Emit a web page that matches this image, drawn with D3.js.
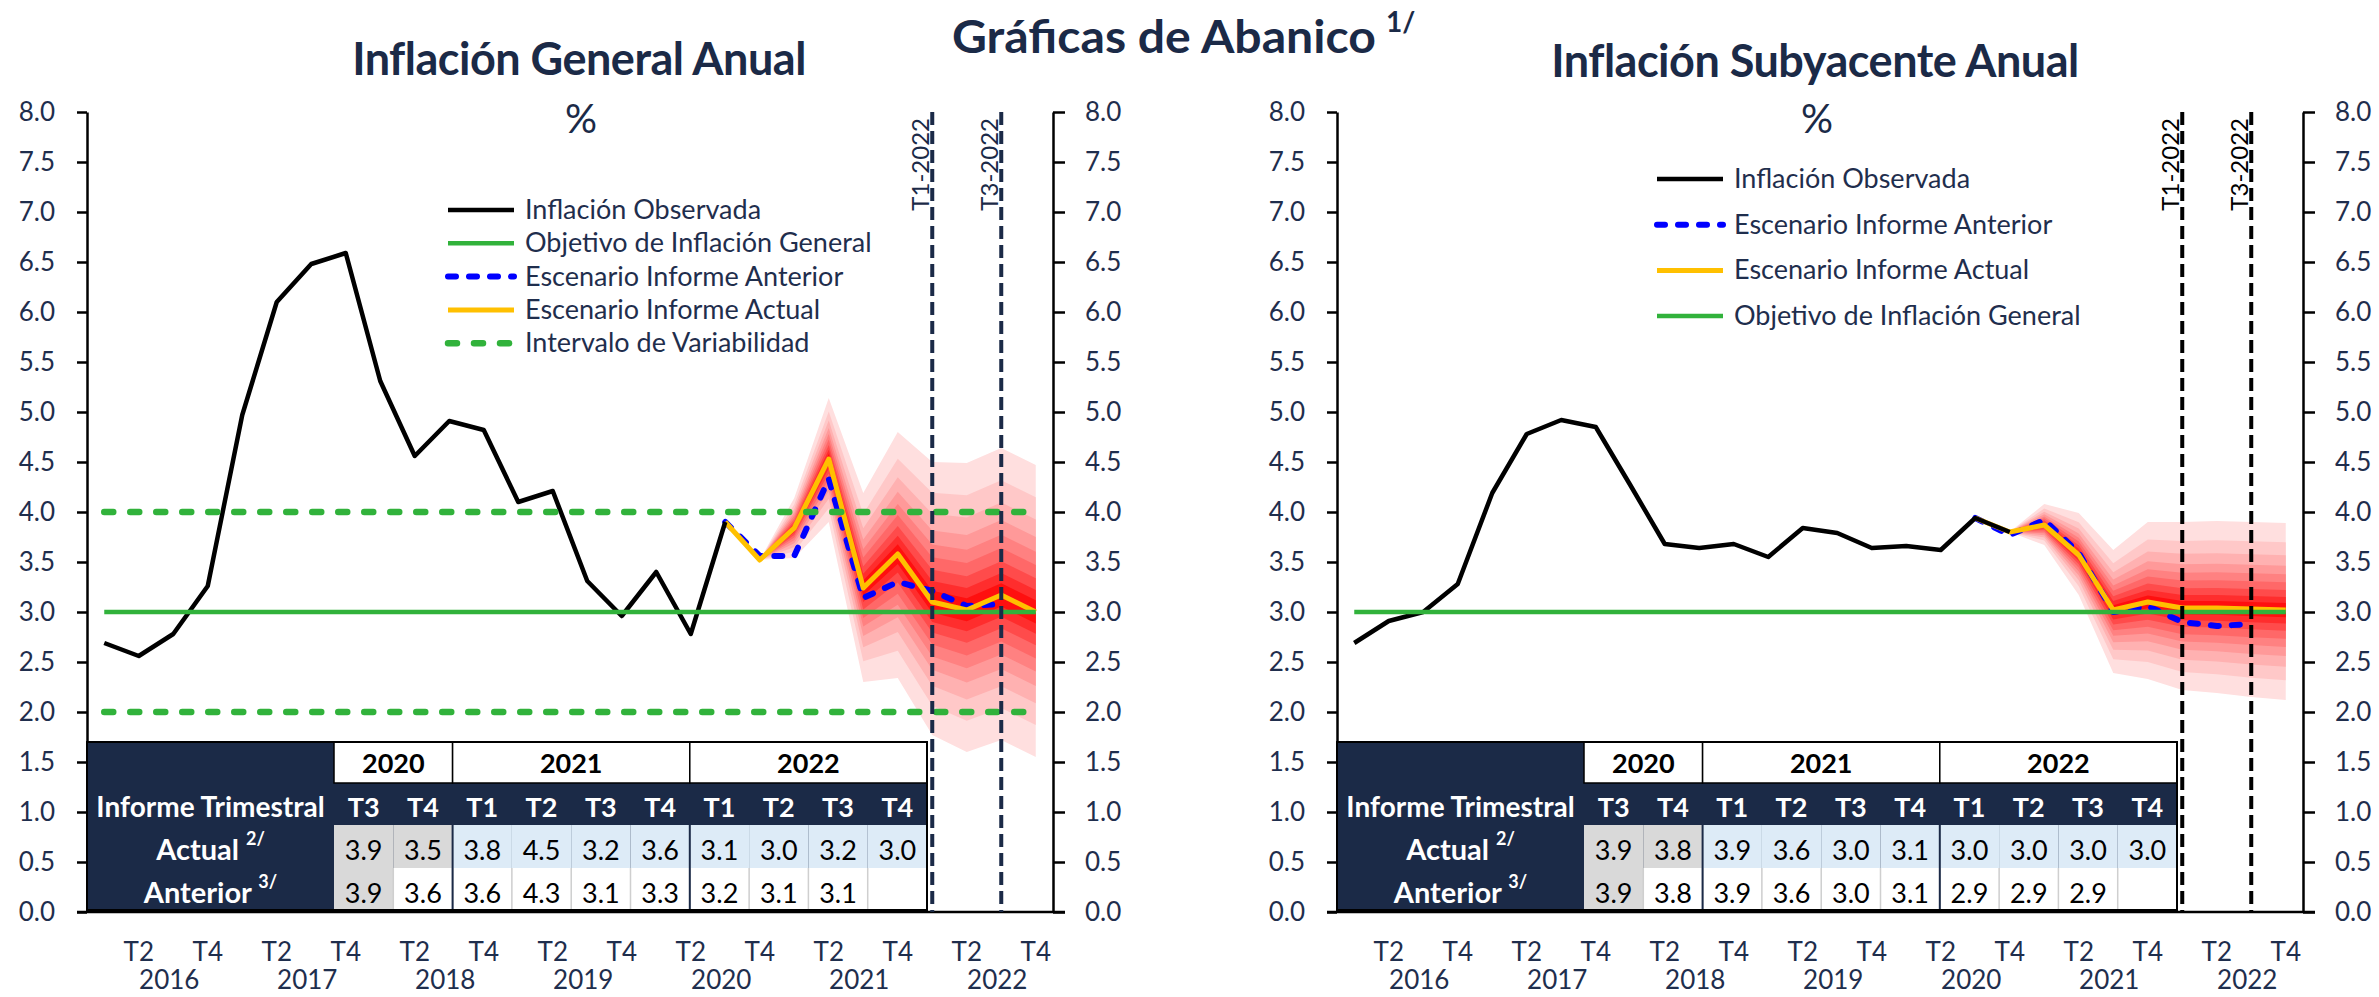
<!DOCTYPE html>
<html>
<head>
<meta charset="utf-8">
<script src="https://cdn.jsdelivr.net/npm/d3@7"></script>
<style>
  html, body { margin: 0; padding: 0; background: #ffffff; }
  svg { display: block; font-family: Lato, "Open Sans", sans-serif; }
</style>
</head>
<body>
<svg id="chart" width="2379" height="997"></svg>
<script>
// ---- Data ---------------------------------------------------------------
const years = [2016, 2017, 2018, 2019, 2020, 2021, 2022];
const quarterNames = ["T1", "T2", "T3", "T4"];
const yTicks = [0, 0.5, 1, 1.5, 2, 2.5, 3, 3.5, 4, 4.5, 5, 5.5, 6, 6.5, 7, 7.5, 8];
const axisQuarterLabels = ["T2", "T4"];

// Inflación general anual (promedio trimestral, %), T1 2016 – T3 2020
const generalObserved = [2.69, 2.56, 2.78, 3.26, 4.97, 6.10, 6.48, 6.59, 5.31, 4.56,
                         4.91, 4.82, 4.10, 4.21, 3.31, 2.96, 3.40, 2.78, 3.90];
// Escenario Informe Actual, T3 2020 – T4 2022
const generalCurrent = [3.90, 3.52, 3.84, 4.53, 3.24, 3.58, 3.10, 3.02, 3.17, 3.00];
// Escenario Informe Anterior, T3 2020 – T3 2022
const generalPrevious = [3.90, 3.56, 3.56, 4.33, 3.14, 3.30, 3.21, 3.06, 3.08];
// Abanico: límites exteriores, T4 2020 – T4 2022
const generalFanUpper = [3.52, 4.14, 5.14, 4.19, 4.80, 4.50, 4.49, 4.64, 4.47];
const generalFanLower = [3.52, 3.54, 3.90, 2.30, 2.34, 1.77, 1.60, 1.72, 1.55];

// Inflación subyacente anual, T1 2016 – T4 2020
const coreObserved = [2.69, 2.91, 3.00, 3.28, 4.19, 4.78, 4.92, 4.85, 4.27, 3.68,
                      3.64, 3.68, 3.55, 3.84, 3.79, 3.64, 3.66, 3.62, 3.94, 3.80];
const coreCurrent = [3.94, 3.80, 3.87, 3.57, 3.02, 3.10, 3.04, 3.04, 3.03, 3.02];
const corePrevious = [3.94, 3.77, 3.92, 3.59, 3.00, 3.06, 2.90, 2.86, 2.88];
const coreFanUpper = [3.80, 4.08, 3.99, 3.62, 3.90, 3.90, 3.91, 3.90, 3.89];
const coreFanLower = [3.80, 3.67, 3.17, 2.39, 2.33, 2.22, 2.19, 2.15, 2.12];

// Position of each fan band edge between the central path and the outer limit
const fanBandShares = [1, 0.78, 0.63, 0.51, 0.41, 0.32, 0.23, 0.15, 0.08];
const fanColors = ["#ffdfdf", "#ffc8c8", "#ffb1b1", "#ff9999", "#ff8181",
                   "#ff6868", "#ff4b4b", "#ff2d2d", "#ff0f0f"];

const inflationTarget = 3;
const variabilityBounds = [2, 4];
const scenarioStart = "T3 2020";
const fanStart = "T4 2020";
const reportMarkers = ["T1 2022", "T3 2022"];
const reportMarkerLabels = ["T1-2022", "T3-2022"];

const legendGeneral = [
  ["Inflación Observada", "observed"],
  ["Objetivo de Inflación General", "target"],
  ["Escenario Informe Anterior", "previous"],
  ["Escenario Informe Actual", "current"],
  ["Intervalo de Variabilidad", "band"]
];
const legendCore = [
  ["Inflación Observada", "observed"],
  ["Escenario Informe Anterior", "previous"],
  ["Escenario Informe Actual", "current"],
  ["Objetivo de Inflación General", "target"]
];

// ---- Layout & styles ----------------------------------------------------
const NAVY = "#1b2a47";
const TEXT = "#1f2e4d";
const lineStyles = {
  observed: { stroke: "#000000", width: 4.5, dash: null, cap: "butt" },
  target:   { stroke: "#31b23b", width: 4.5, dash: null, cap: "butt" },
  previous: { stroke: "#0000ff", width: 6,   dash: "8,13", cap: "round" },
  current:  { stroke: "#ffc000", width: 5,   dash: null, cap: "butt" },
  band:     { stroke: "#31b23b", width: 6.5, dash: "9,17", cap: "round" }
};

const svg = d3.select("#chart");
const categories = years.flatMap(yr => quarterNames.map(q => `${q} ${yr}`));
const y = d3.scaleLinear().domain([0, 8]).range([912, 112]);

// Main title
svg.append("text")
  .attr("x", 952).attr("y", 53)
  .attr("fill", NAVY).attr("font-weight", 700).attr("font-size", 46)
  .attr("textLength", 424).attr("lengthAdjust", "spacingAndGlyphs")
  .text("Gráficas de Abanico");
svg.append("text")
  .attr("x", 1386).attr("y", 32)
  .attr("fill", NAVY).attr("font-weight", 700).attr("font-size", 28)
  .text("1/");

const panels = [
  {
    left: 87, right: 1053, title: "Inflación General Anual", titleX: 579, titleY: 75,
    observed: generalObserved, current: generalCurrent, previous: generalPrevious,
    fanUpper: generalFanUpper, fanLower: generalFanLower,
    legend: legendGeneral, legendX: 446, legendY: 210, legendStep: 33.3,
    showBand: true, markerColor: NAVY
  },
  {
    left: 1337, right: 2303, title: "Inflación Subyacente Anual", titleX: 1815, titleY: 77,
    observed: coreObserved, current: coreCurrent, previous: corePrevious,
    fanUpper: coreFanUpper, fanLower: coreFanLower,
    legend: legendCore, legendX: 1655, legendY: 179, legendStep: 45.7,
    showBand: false, markerColor: "#000000"
  }
];

function styleLine(sel, kind) {
  const s = lineStyles[kind];
  sel.attr("fill", "none").attr("stroke", s.stroke).attr("stroke-width", s.width)
     .attr("stroke-linecap", s.cap).attr("stroke-linejoin", "round");
  if (s.dash) sel.attr("stroke-dasharray", s.dash);
  return sel;
}

panels.forEach(p => {
  const g = svg.append("g");
  const x = d3.scaleBand().domain(categories).range([p.left, p.right]);
  const cx = c => x(c) + x.bandwidth() / 2;
  const idx = c => categories.indexOf(c);
  const fromStart = (start, vals) => vals.map((v, i) => ({ c: categories[idx(start) + i], v }));

  const observedPts = fromStart(categories[0], p.observed);
  const currentPts = fromStart(scenarioStart, p.current);
  const previousPts = fromStart(scenarioStart, p.previous);
  const currentByCat = new Map(currentPts.map(d => [d.c, d.v]));
  const fanPts = p.fanUpper.map((u, i) => {
    const c = categories[idx(fanStart) + i];
    return { c, m: currentByCat.get(c), u, l: p.fanLower[i] };
  });

  // Titles
  g.append("text").attr("x", p.titleX).attr("y", p.titleY).attr("text-anchor", "middle")
    .attr("fill", NAVY).attr("font-weight", 700).attr("font-size", 45)
    .attr("letter-spacing", -0.5).text(p.title);
  g.append("text").attr("x", p.titleX + 2).attr("y", 133).attr("text-anchor", "middle")
    .attr("fill", NAVY).attr("font-size", 40).text("%");

  // Fan bands, outermost first
  fanBandShares.forEach((s, k) => {
    const area = d3.area()
      .x(d => cx(d.c))
      .y0(d => y(d.m - s * (d.m - d.l)))
      .y1(d => y(d.m + s * (d.u - d.m)));
    g.append("path").attr("d", area(fanPts)).attr("fill", fanColors[k]);
  });

  const line = d3.line().x(d => cx(d.c)).y(d => y(d.v));
  styleLine(g.append("path").attr("d", line(previousPts)), "previous");
  styleLine(g.append("path").attr("d", line(currentPts)), "current");
  styleLine(g.append("path").attr("d", line(observedPts)), "observed");

  const first = cx(categories[0]), last = cx(categories[categories.length - 1]);
  if (p.showBand) {
    variabilityBounds.forEach(b => {
      styleLine(g.append("line").attr("x1", first).attr("x2", last)
        .attr("y1", y(b)).attr("y2", y(b)), "band");
    });
  }
  styleLine(g.append("line").attr("x1", first).attr("x2", last)
    .attr("y1", y(inflationTarget)).attr("y2", y(inflationTarget)), "target");

  // Axes
  const yLeft = d3.axisLeft(y).tickValues(yTicks).tickSize(10).tickSizeOuter(0)
    .tickPadding(22).tickFormat(d3.format(".1f"));
  const yRight = d3.axisRight(y).tickValues(yTicks).tickSize(12).tickSizeOuter(0)
    .tickPadding(20).tickFormat(d3.format(".1f"));
  [[yLeft, p.left], [yRight, p.right]].forEach(([ax, pos]) => {
    const a = g.append("g").attr("transform", `translate(${pos},0)`).call(ax);
    a.select(".domain").attr("stroke", "#000").attr("stroke-width", 2.5);
    a.selectAll(".tick line").attr("stroke", "#000").attr("stroke-width", 2.5);
    a.selectAll(".tick text").attr("fill", TEXT).attr("font-size", 26)
      .attr("font-family", "Lato, sans-serif");
  });

  const xAxis = d3.axisBottom(x).tickSize(0).tickSizeOuter(0)
    .tickFormat(d => { const q = d.split(" ")[0]; return axisQuarterLabels.includes(q) ? q : ""; });
  const xa = g.append("g").attr("transform", "translate(0,912)").call(xAxis);
  xa.select(".domain").remove();
  xa.selectAll(".tick text").attr("y", 31).attr("dy", "0.71em").attr("fill", TEXT)
    .attr("font-size", 26).attr("font-family", "Lato, sans-serif");
  g.append("line").attr("x1", p.left - 10).attr("x2", p.right + 12)
    .attr("y1", 912).attr("y2", 912).attr("stroke", "#000").attr("stroke-width", 2.5);
  years.forEach(yr => {
    g.append("text").attr("x", cx(`T3 ${yr}`) - 4).attr("y", 989)
      .attr("text-anchor", "middle").attr("fill", TEXT).attr("font-size", 26).text(yr);
  });

  // Table of forecasts
  const tableCats = categories.slice(idx(scenarioStart), idx(scenarioStart) + p.current.length);
  const labelW = 247, colW = 59.3;
  const tL = p.left, cStart = tL + labelW, tR = cStart + colW * tableCats.length;
  const rowsY = [742, 783, 825, 868, 910];
  const colX = i => cStart + i * colW;
  const tg = g.append("g");
  tg.append("rect").attr("x", tL).attr("y", rowsY[0]).attr("width", tR - tL)
    .attr("height", rowsY[4] - rowsY[0]).attr("fill", NAVY);
  // year header (white cells)
  const yearGroups = d3.groups(tableCats, c => c.split(" ")[1]);
  let col = 0;
  yearGroups.forEach(([yr, cs]) => {
    const x0 = colX(col), w = cs.length * colW;
    tg.append("rect").attr("x", x0).attr("y", rowsY[0]).attr("width", w)
      .attr("height", rowsY[1] - rowsY[0]).attr("fill", "#fff")
      .attr("stroke", "#000").attr("stroke-width", 1.5);
    tg.append("text").attr("x", x0 + w / 2).attr("y", 773).attr("text-anchor", "middle")
      .attr("font-weight", 700).attr("font-size", 27).attr("fill", "#000").text(yr);
    col += cs.length;
  });
  // quarter header
  tableCats.forEach((c, i) => {
    tg.append("text").attr("x", colX(i) + colW / 2).attr("y", 817).attr("text-anchor", "middle")
      .attr("font-weight", 700).attr("font-size", 27).attr("fill", "#fff").text(c.split(" ")[0]);
  });
  // value rows
  const observedCount = { current: 2, previous: 1 };
  const rowDefs = [
    { key: "current", vals: p.current, top: rowsY[2], bottom: rowsY[3], base: 860, fore: "#ddebf7" },
    { key: "previous", vals: p.previous, top: rowsY[3], bottom: rowsY[4], base: 903, fore: "#ffffff" }
  ];
  rowDefs.forEach(r => {
    tableCats.forEach((c, i) => {
      tg.append("rect").attr("x", colX(i)).attr("y", r.top).attr("width", colW)
        .attr("height", r.bottom - r.top)
        .attr("fill", i < observedCount[r.key] ? "#d9d9d9" : r.fore);
      if (r.key === "previous" && i > 0) {
        tg.append("line").attr("x1", colX(i)).attr("x2", colX(i)).attr("y1", r.top).attr("y2", r.bottom)
          .attr("stroke", "#cfcfcf").attr("stroke-width", 1.5);
      }
      if (i < r.vals.length) {
        tg.append("text").attr("x", colX(i) + colW / 2).attr("y", r.base).attr("text-anchor", "middle")
          .attr("font-size", 27).attr("fill", "#000").text(r.vals[i].toFixed(1));
      }
    });
  });
  // group dividers
  col = 0;
  yearGroups.forEach(([yr, cs], gi) => {
    col += cs.length;
    if (gi < yearGroups.length - 1) {
      tg.append("line").attr("x1", colX(col)).attr("x2", colX(col))
        .attr("y1", rowsY[2]).attr("y2", rowsY[4]).attr("stroke", NAVY).attr("stroke-width", 2);
    }
  });
  // row labels
  const labelCx = tL + labelW / 2;
  tg.append("text").attr("x", labelCx).attr("y", 817).attr("text-anchor", "middle")
    .attr("font-weight", 700).attr("font-size", 28).attr("fill", "#fff").text("Informe Trimestral");
  [["Actual", "2/", 860], ["Anterior", "3/", 903]].forEach(([lab, note, base]) => {
    const t = tg.append("text").attr("x", labelCx).attr("y", base).attr("text-anchor", "middle")
      .attr("font-weight", 700).attr("font-size", 29).attr("fill", "#fff").text(lab + " ");
    t.append("tspan").attr("dy", -15).attr("font-size", 18).text(note);
  });
  tg.append("rect").attr("x", tL).attr("y", rowsY[0]).attr("width", tR - tL)
    .attr("height", rowsY[4] - rowsY[0]).attr("fill", "none")
    .attr("stroke", "#000").attr("stroke-width", 2);

  // Report markers
  reportMarkers.forEach((c, i) => {
    const mx = cx(c);
    g.append("line").attr("x1", mx).attr("x2", mx).attr("y1", 112).attr("y2", 912)
      .attr("stroke", p.markerColor).attr("stroke-width", 4).attr("stroke-dasharray", "13,6");
    g.append("text").attr("transform", `translate(${mx - 3},118) rotate(-90)`)
      .attr("text-anchor", "end").attr("font-size", 24).attr("fill", p.markerColor)
      .text(reportMarkerLabels[i]);
  });

  // Legend
  p.legend.forEach(([label, kind], i) => {
    const ly = p.legendY + i * p.legendStep;
    styleLine(g.append("line").attr("x1", p.legendX + 2).attr("x2", p.legendX + 68)
      .attr("y1", ly).attr("y2", ly), kind);
    g.append("text").attr("x", p.legendX + 79).attr("y", ly + 9)
      .attr("font-size", 27).attr("fill", TEXT).text(label);
  });
});
</script>
</body>
</html>
